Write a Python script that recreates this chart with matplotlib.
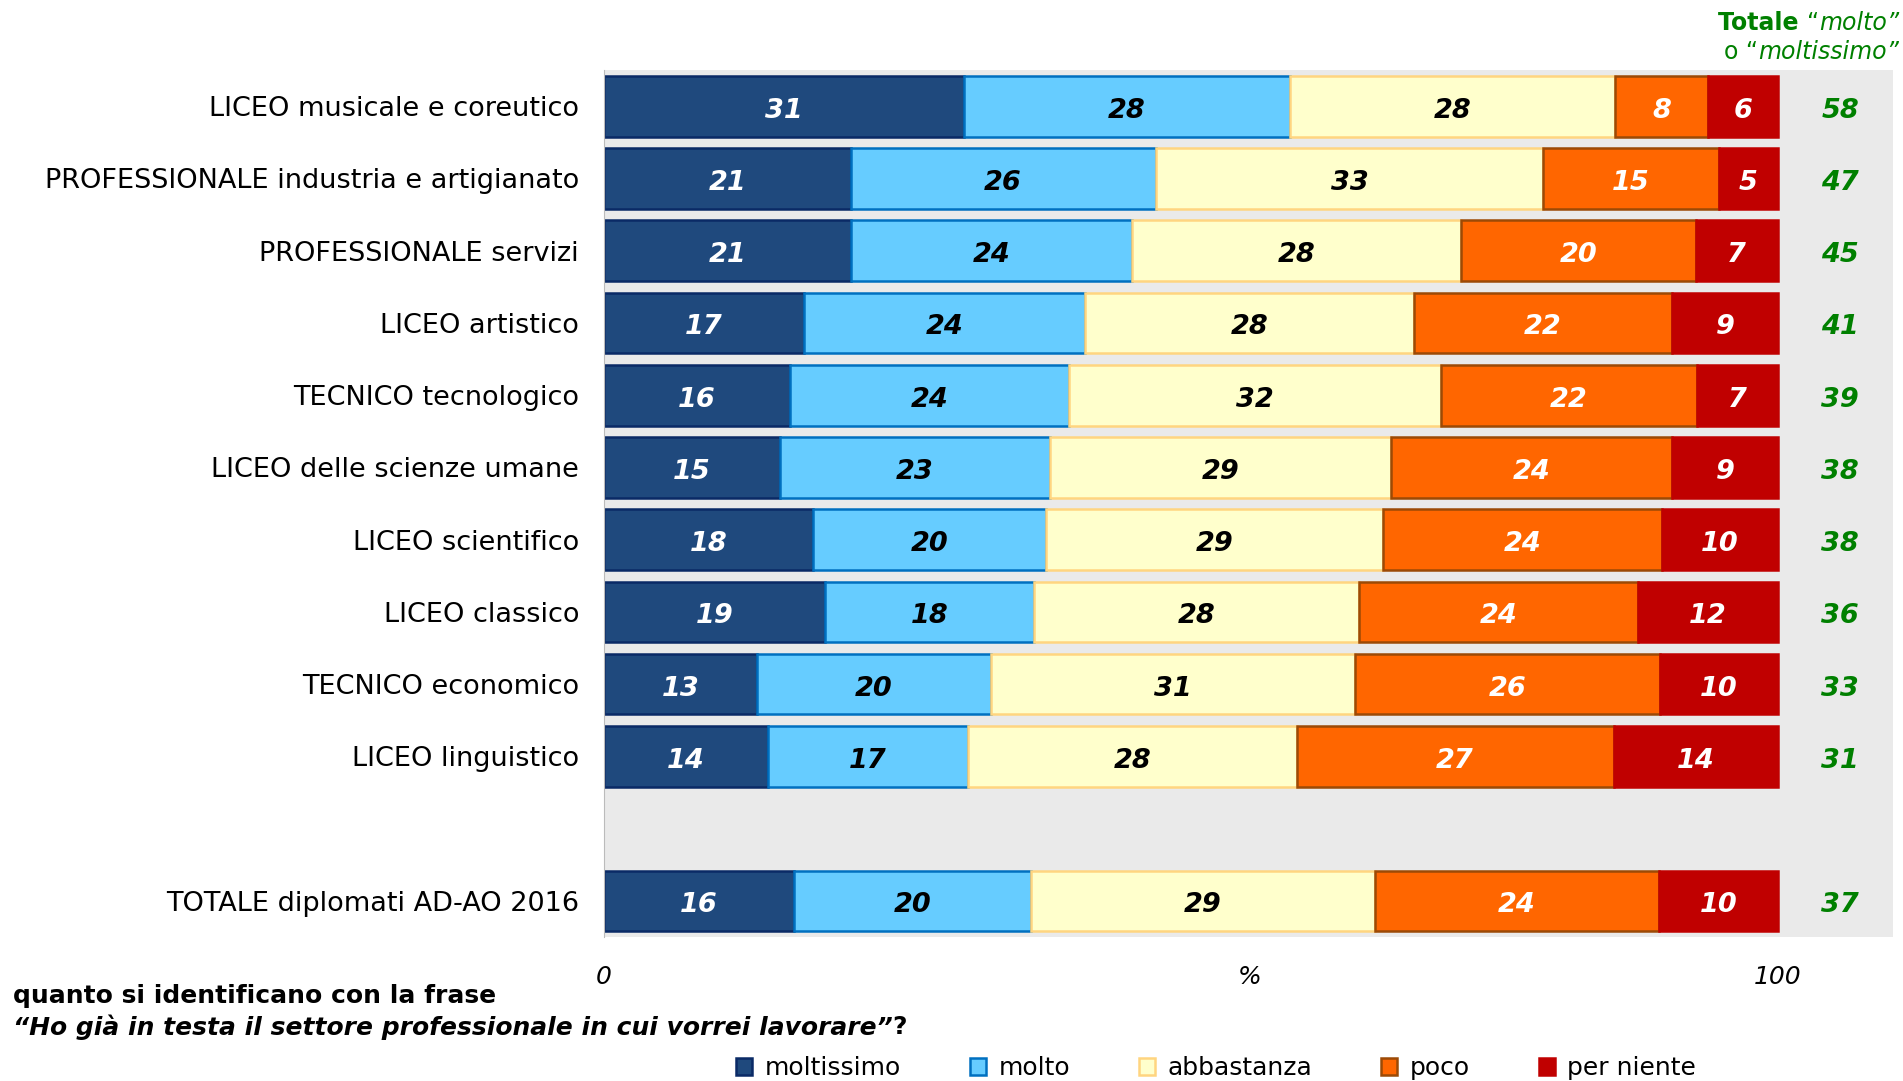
import matplotlib.pyplot as plt
import numpy as np

categories = [
    'LICEO musicale e coreutico',
    'PROFESSIONALE industria e artigianato',
    'PROFESSIONALE servizi',
    'LICEO artistico',
    'TECNICO tecnologico',
    'LICEO delle scienze umane',
    'LICEO scientifico',
    'LICEO classico',
    'TECNICO economico',
    'LICEO linguistico',
    'TOTALE diplomati AD-AO 2016',
]
moltissimo = [31, 21, 21, 17, 16, 15, 18, 19, 13, 14, 16]
molto = [28, 26, 24, 24, 24, 23, 20, 18, 20, 17, 20]
abbastanza = [28, 33, 28, 28, 32, 29, 29, 28, 31, 28, 29]
poco = [8, 15, 20, 22, 22, 24, 24, 24, 26, 27, 24]
per_niente = [6, 5, 7, 9, 7, 9, 10, 12, 10, 14, 10]
totale = [58, 47, 45, 41, 39, 38, 38, 36, 33, 31, 37]

series_names = ['moltissimo', 'molto', 'abbastanza', 'poco', 'per niente']
face_colors = ['#1F497D', '#66CCFF', '#FFFFCC', '#FF6600', '#C00000']
edge_colors = ['#0A2A66', '#0070C0', '#FFD580', '#9C4A06', '#C00000']
text_colors = ['white', 'black', 'black', 'white', 'white']

# row positions: gap before the total row
ypos = [0, 1, 2, 3, 4, 5, 6, 7, 8, 9, 11]

fig = plt.figure(figsize=(19.03, 10.81), dpi=100)
ax = fig.add_axes([0.3174, 0.1332, 0.6773, 0.802])
ax.set_facecolor('#EAEAEA')

data = np.array([moltissimo, molto, abbastanza, poco, per_niente], dtype=float)
widths = data / data.sum(axis=0) * 100
left = np.zeros(len(categories))
for i, name in enumerate(series_names):
    ax.barh(ypos, widths[i], left=left, height=0.84, color=face_colors[i],
            edgecolor=edge_colors[i], linewidth=1.8, label=name)
    for y, l, w, v in zip(ypos, left, widths[i], data[i]):
        ax.text(l + w / 2, y + 0.02, '%d' % v, ha='center', va='center_baseline',
                fontsize=19.5, fontweight='bold', fontstyle='italic', color=text_colors[i])
    left += widths[i]

for y, t in zip(ypos, totale):
    ax.text(105.3, y + 0.02, '%d' % t, ha='center', va='center_baseline', fontsize=19.5,
            fontweight='bold', fontstyle='italic', color='#008000')

ax.set_xlim(0, 109.8)
ax.set_ylim(11.5, -0.5)
ax.set_yticks(ypos)
ax.set_yticklabels(categories, fontsize=19.5)
ax.tick_params(axis='y', length=0, pad=18)
ax.set_xticks([])
for s in ['top', 'right', 'bottom']:
    ax.spines[s].set_visible(False)
ax.spines['left'].set_color('#BBBBBB')

# x labels below axis
for xv, lab in [(0, '0'), (55, '%'), (100, '100')]:
    ax.text(xv, 12.05, lab, ha='center', va='center', fontsize=18,
            fontstyle='italic', clip_on=False)

# header top right
fig.canvas.draw()
r = fig.canvas.get_renderer()

def chain_right(x_px, y_px, parts):
    # parts drawn right to left
    x = x_px
    for txt, kw in reversed(parts):
        t = fig.text(x / 1903, y_px / 1081, txt, ha='right', va='center',
                     color='#008000', fontsize=17, **kw)
        bb = t.get_window_extent(renderer=r)
        x -= bb.width

chain_right(1899, 1081 - 23, [('Totale ', dict(fontweight='bold')),
                             ('\u201c', {}),
                             ('molto\u201d', dict(fontstyle='italic'))])
chain_right(1899, 1081 - 52, [('o \u201c', {}),
                             ('moltissimo\u201d', dict(fontstyle='italic'))])

fig.text(13 / 1903, 1 - 996 / 1081, 'quanto si identificano con la frase',
         fontsize=18, fontweight='bold', va='center', ha='left')
t = fig.text(13 / 1903, 1 - 1027 / 1081,
             '\u201cHo già in testa il settore professionale in cui vorrei lavorare\u201d',
             fontsize=18, fontweight='bold', fontstyle='italic', va='center', ha='left')
bb = t.get_window_extent(renderer=r)
fig.text((13 + bb.width) / 1903, 1 - 1027 / 1081, '?', fontsize=18,
         fontweight='bold', va='center', ha='left')

handles, labels = ax.get_legend_handles_labels()
leg = fig.legend(handles, labels, loc='center', bbox_to_anchor=(0.639, 0.012),
                 ncol=5, frameon=False, fontsize=18, handlelength=0.65,
                 handleheight=0.65, handletextpad=0.5, columnspacing=2.75)

fig.savefig('out.png', dpi=100)
